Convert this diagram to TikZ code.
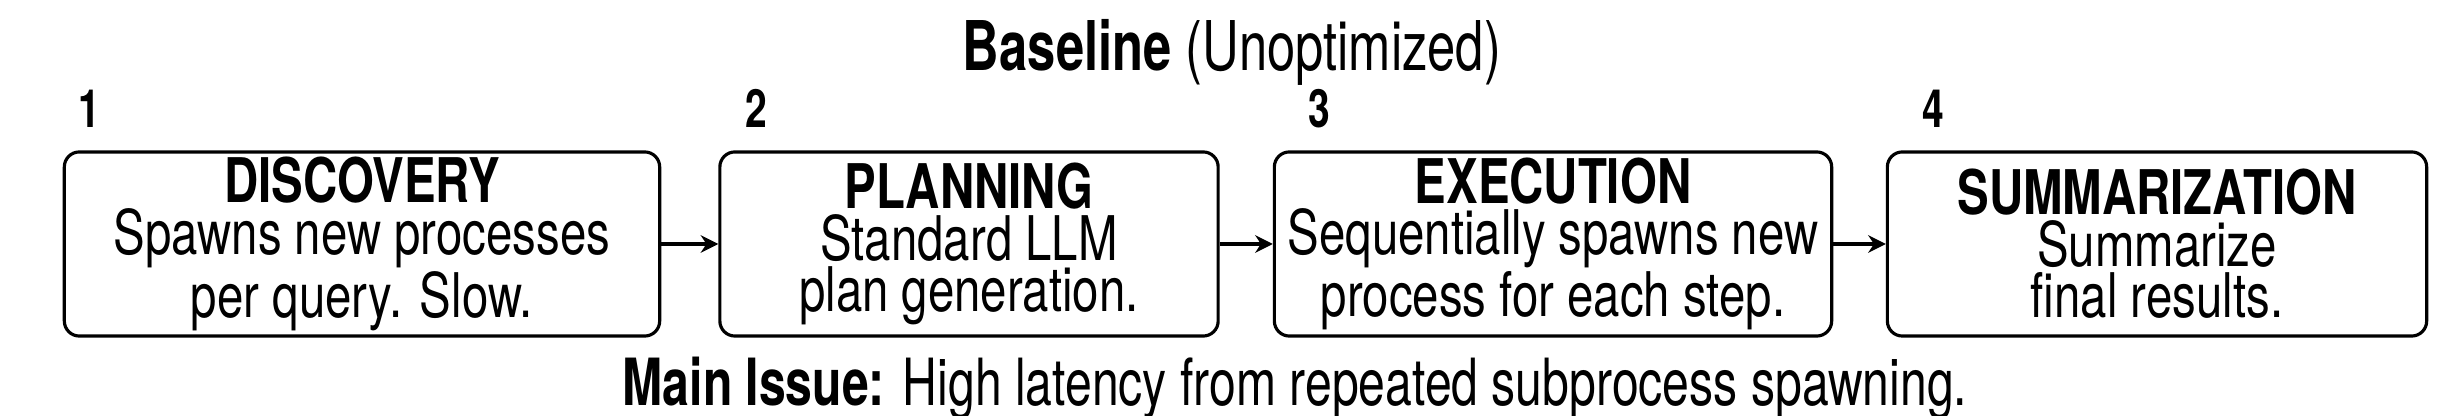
\documentclass[tikz,border=0pt]{standalone}
\usepackage{fontspec}
\setmainfont[FakeStretch=0.74]{TeX Gyre Heros}
\newfontfamily\boxfont[FakeStretch=0.77]{TeX Gyre Heros}
\usetikzlibrary{arrows.meta}
\begin{document}
\begin{tikzpicture}[x=0.01cm,y=-0.01cm,
  stage/.style={draw,line width=0.9pt,rounded corners=0.15cm,minimum height=1.84cm,align=center,inner sep=0pt,
    font=\boxfont\fontsize{17.5}{14.6}\selectfont},
  num/.style={anchor=base west,font=\fontsize{15}{15}\selectfont\bfseries},
  link/.style={line width=0.9pt,-{Stealth[length=5pt,width=5pt]}}]
\useasboundingbox (0,0) rectangle (2461,416);
\node[font=\fontsize{19.5}{19.5}\selectfont] (t) at (1232,52) {\textbf{Baseline} (Unoptimized)};
\node[stage,minimum width=5.95cm] (a) at (362,244) {\textbf{DISCOVERY}\\Spawns new processes\\per query. Slow.};
\node[stage,minimum width=4.98cm] (b) at (969,244) {\textbf{PLANNING}\\Standard LLM\\plan generation.};
\node[stage,minimum width=5.57cm] (c) at (1553,244) {\textbf{EXECUTION}\\Sequentially spawns new\\process for each step.};
\node[stage,minimum width=5.39cm] (d) at (2157,244) {\textbf{SUMMARIZATION}\\Summarize\\final results.};
\node[num] (n1) at (66,128) {1};
\node[num] (n2) at (733,128) {2};
\node[num] (n3) at (1296,128) {3};
\node[num] (n4) at (1910,128) {4};
\draw[link] (a) -- (b);
\draw[link] (b) -- (c);
\draw[link] (c) -- (d);
\node[font=\fontsize{18.5}{18.5}\selectfont] (m) at (1295,388) {\textbf{Main Issue:} High latency from repeated subprocess spawning.};
\end{tikzpicture}
\end{document}
